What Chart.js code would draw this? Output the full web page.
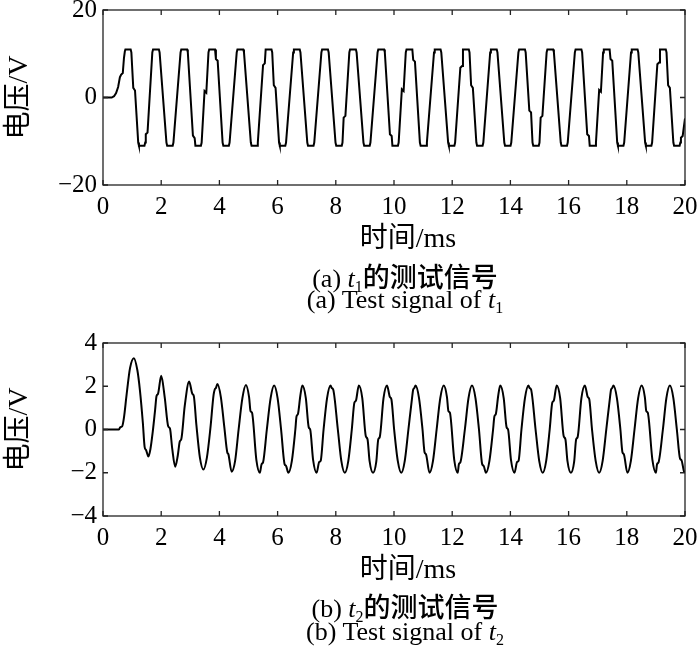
<!DOCTYPE html>
<html><head><meta charset="utf-8">
<script src="https://cdn.jsdelivr.net/npm/chart.js@4.4.0/dist/chart.umd.min.js"></script>
<style>
html,body{margin:0;padding:0;background:#fff;}
#wrap{position:relative;width:700px;height:661px;overflow:hidden;background:#fff;}
canvas{position:absolute;left:0;}
.cap{position:absolute;left:110px;width:590px;text-align:center;font-family:"Liberation Serif","Noto Sans CJK SC",serif;font-size:26px;line-height:26px;color:#000;white-space:nowrap;}
.cap .cj{font-family:"Noto Sans CJK SC",sans-serif;font-size:27px;font-weight:500;}
.cap sub{font-size:16px;vertical-align:-5px;line-height:0;}
</style></head>
<body><div id="wrap">
<canvas id="c1" width="700" height="262" style="top:0px"></canvas>
<canvas id="c2" width="700" height="265" style="top:330px"></canvas>
<div class="cap" style="top:263px">(a) <i>t</i><sub>1</sub><span class="cj">的测试信号</span></div>
<div class="cap" style="top:287px">(a) Test signal of <i>t</i><sub>1</sub></div>
<div class="cap" style="top:593px">(b) <i>t</i><sub>2</sub><span class="cj">的测试信号</span></div>
<div class="cap" style="top:619px">(b) Test signal of <i>t</i><sub>2</sub></div>
</div>
<script>
// ---- data (time in ms, voltage in V) ----
const xTickLabels = ['0','2','4','6','8','10','12','14','16','18','20'];
const y1TickLabels = ['\u221220','0','20'];
const y2TickLabels = ['\u22124','\u22122','0','2','4'];
const xTitle = '\u2003时间/ms';
const yTitle = '电压/V';

const t1Signal = [
[0,0],[0.30,0],[0.38,0.3],[0.45,1.0],[0.52,2.4],[0.58,4.6],[0.62,5.2],[0.68,5.6],[0.72,9.0],[0.75,10.5],[0.77,11],[0.95,11],
[0.975,10.3],[1.04,2.2],[1.10,1.6],[1.21,-10.3],[1.235,-11],[1.425,-11],
[1.45,-10.3],[1.47,-8.4],[1.53,-8.0],[1.695,10.3],[1.72,11],[1.92,11],
[1.945,10.3],[2.18,-10.3],[2.205,-11],[2.395,-11],
[2.42,-10.3],[2.665,10.3],[2.69,11],[2.89,11],
[2.915,10.3],[3.09,-8.7],[3.15,-9.3],[3.175,-11],[3.365,-11],
[3.39,-10.3],[3.49,1.5],[3.55,1.1],[3.625,10.3],[3.65,11],[3.85,11],
[3.88,8.8],[3.94,8.4],[4.11,-10.3],[4.135,-11],[4.325,-11],
[4.35,-10.3],[4.595,10.3],[4.62,11],[4.82,11],
[4.845,10.3],[5.08,-10.3],[5.105,-11],[5.295,-11],
[5.32,-10.3],[5.50,7.4],[5.56,7.8],[5.59,11],[5.79,11],
[5.815,10.3],[5.87,2.8],[5.93,2.2],[6.05,-10.3],[6.075,-11],[6.265,-11],
[6.29,-10.3],[6.535,10.3],[6.56,11],[6.76,11],
[6.785,10.3],[7.02,-10.3],[7.045,-11],[7.235,-11],
[7.26,-10.3],[7.505,10.3],[7.53,11],[7.73,11],
[7.755,10.3],[7.99,-10.3],[8.015,-11],[8.205,-11],
[8.23,-10.3],[8.27,-4.6],[8.33,-4.2],[8.465,10.3],[8.49,11],[8.69,11],
[8.715,10.3],[8.95,-10.3],[8.975,-11],[9.165,-11],
[9.19,-10.3],[9.435,10.3],[9.46,11],[9.66,11],
[9.685,10.3],[9.86,-8.4],[9.92,-8.8],[9.945,-11],[10.135,-11],
[10.16,-10.3],[10.27,1.9],[10.33,1.5],[10.405,10.3],[10.43,11],[10.63,11],
[10.66,8.6],[10.72,8.2],[10.89,-10.3],[10.915,-11],[11.105,-11],
[11.13,-10.3],[11.375,10.3],[11.40,11],[11.60,11],
[11.625,10.3],[11.86,-10.3],[11.885,-11],[12.075,-11],
[12.10,-10.3],[12.28,6.8],[12.34,7.2],[12.37,11],[12.57,11],
[12.595,10.3],[12.65,2.8],[12.71,2.2],[12.83,-10.3],[12.855,-11],[13.045,-11],
[13.07,-10.3],[13.305,10.3],[13.33,11],[13.53,11],
[13.555,10.3],[13.79,-10.3],[13.815,-11],[14.005,-11],
[14.03,-10.3],[14.275,10.3],[14.30,11],[14.50,11],
[14.525,10.3],[14.65,-3.0],[14.71,-3.4],[14.76,-10.3],[14.785,-11],[14.975,-11],
[15.00,-10.3],[15.04,-4.6],[15.10,-4.2],[15.245,10.3],[15.27,11],[15.47,11],
[15.495,10.3],[15.73,-10.3],[15.755,-11],[15.945,-11],
[15.97,-10.3],[16.215,10.3],[16.24,11],[16.44,11],
[16.465,10.3],[16.64,-8.4],[16.70,-8.8],[16.725,-11],[16.915,-11],
[16.94,-10.3],[17.05,1.7],[17.11,1.3],[17.185,10.3],[17.21,11],[17.41,11],
[17.44,8.8],[17.50,8.4],[17.67,-10.3],[17.695,-11],[17.885,-11],
[17.91,-10.3],[18.145,10.3],[18.17,11],[18.37,11],
[18.395,10.3],[18.63,-10.3],[18.655,-11],[18.845,-11],
[18.87,-10.3],[19.05,7.6],[19.11,8.0],[19.14,11],[19.34,11],
[19.365,10.3],[19.42,2.8],[19.48,2.2],[19.60,-10.3],[19.625,-11],[19.815,-11],
[19.84,-10.3],[19.86,-9.2],[19.92,-8.8],[20.0,-4.8]
];

const t2Signal = [
[0,0],[0.55,0],[0.59,0.1],[0.66,0.15],[0.72,0.55],[0.81,1.6],[0.93,2.85],[1.06,3.3],
[1.18,2.75],[1.27,1.8],[1.37,0.3],[1.43,-0.8],[1.48,-0.95],[1.56,-1.25],
[1.63,-0.9],[1.71,-0.1],[1.79,0.9],[1.84,1.55],[1.89,1.65],[2.00,2.48],
[2.12,1.5],[2.24,0.15],[2.30,0.05],[2.38,-0.9],[2.48,-1.72],
[2.57,-1.2],[2.64,-0.55],[2.69,-0.45],[2.81,1.1],[2.96,2.22],
[3.07,1.65],[3.12,1.55],[3.21,0.2],[3.33,-1.3],[3.45,-1.85],
[3.57,-1.3],[3.69,0.05],[3.80,1.6],[3.84,1.85],[3.88,1.92],[3.93,2.1],
[4.05,1.5],[4.17,0.1],[4.27,-1.05],[4.31,-1.15],[4.42,-1.95],
[4.54,-1.45],[4.66,0.0],[4.79,1.45],[4.91,2.06],
[5.02,1.5],[5.07,0.85],[5.12,0.78],[5.27,-1.4],[5.39,-2.0],
[5.45,-1.6],[5.50,-1.52],[5.63,0.0],[5.76,1.45],[5.88,2.03],
[6.00,1.45],[6.12,0.0],[6.24,-1.6],[6.29,-1.68],[6.37,-2.0],
[6.49,-1.45],[6.61,0.0],[6.65,0.6],[6.70,0.72],[6.78,1.55],[6.85,2.03],
[6.97,1.45],[7.07,0.1],[7.12,0.0],[7.22,-1.4],[7.34,-2.0],
[7.43,-1.5],[7.48,-1.45],[7.58,0.0],[7.70,1.45],[7.82,2.03],
[7.86,1.92],[7.91,1.85],[8.07,0.0],[8.19,-1.45],[8.31,-2.0],
[8.43,-1.45],[8.55,0.0],[8.64,1.25],[8.69,1.33],[8.79,2.03],
[8.91,1.45],[9.03,-0.3],[9.09,-0.45],[9.16,-1.45],[9.28,-2.0],
[9.39,-1.5],[9.46,-0.45],[9.51,-0.35],[9.64,1.45],[9.76,2.03],
[9.86,1.5],[9.91,1.4],[10.005,0.0],[10.13,-1.45],[10.25,-2.0],
[10.37,-1.45],[10.495,0.0],[10.62,1.45],[10.66,1.85],[10.70,1.92],[10.74,2.03],
[10.86,1.45],[10.98,0.0],[11.05,-1.05],[11.10,-1.15],[11.22,-2.0],
[11.34,-1.45],[11.465,0.0],[11.59,1.45],[11.71,2.03],
[11.82,1.5],[11.87,0.85],[11.92,0.78],[12.07,-1.4],[12.19,-2.0],
[12.23,-1.6],[12.28,-1.52],[12.435,0.0],[12.56,1.45],[12.68,2.03],
[12.80,1.45],[12.92,0.0],[13.03,-1.6],[13.08,-1.68],[13.16,-2.0],
[13.28,-1.45],[13.405,0.0],[13.45,0.6],[13.50,0.72],[13.58,1.55],[13.65,2.03],
[13.77,1.45],[13.87,0.1],[13.92,0.0],[14.02,-1.4],[14.14,-2.0],
[14.23,-1.5],[14.28,-1.45],[14.38,0.0],[14.50,1.45],[14.62,2.03],
[14.66,1.92],[14.71,1.85],[14.865,0.0],[14.99,-1.45],[15.11,-2.0],
[15.23,-1.45],[15.35,0.0],[15.44,1.25],[15.49,1.33],[15.59,2.03],
[15.71,1.45],[15.83,-0.3],[15.89,-0.45],[15.96,-1.45],[16.08,-2.0],
[16.19,-1.5],[16.26,-0.45],[16.31,-0.35],[16.44,1.45],[16.56,2.03],
[16.66,1.5],[16.71,1.4],[16.805,0.0],[16.93,-1.45],[17.05,-2.0],
[17.17,-1.45],[17.295,0.0],[17.42,1.45],[17.46,1.85],[17.50,1.92],[17.54,2.03],
[17.66,1.45],[17.78,0.0],[17.85,-1.05],[17.90,-1.15],[18.02,-2.0],
[18.14,-1.45],[18.265,0.0],[18.39,1.45],[18.51,2.03],
[18.62,1.5],[18.67,0.85],[18.72,0.78],[18.88,-1.4],[19.00,-2.0],
[19.04,-1.6],[19.09,-1.52],[19.24,0.0],[19.36,1.45],[19.48,2.03],
[19.60,1.45],[19.72,0.0],[19.83,-1.35],[19.88,-1.42],[19.97,-1.95],[20,-1.97]
];

// ---- drawing ----
const TICK_FONT = {family:'"Liberation Serif","Times New Roman",serif', size:25};
const TITLE_FONT = {family:'"Liberation Serif","Noto Sans CJK SC",serif', size:28};

const frameTicks = {
  id:'frameTicks',
  afterDatasetsDraw(chart){
    const {ctx, chartArea:a, scales:{x,y}} = chart;
    ctx.save();
    ctx.strokeStyle='#222'; ctx.lineWidth=1.3;
    ctx.strokeRect(a.left, a.top, a.right-a.left, a.bottom-a.top);
    ctx.beginPath();
    x.ticks.forEach(t=>{const p=x.getPixelForValue(t.value);
      ctx.moveTo(p,a.bottom);ctx.lineTo(p,a.bottom-5);ctx.moveTo(p,a.top);ctx.lineTo(p,a.top+5);});
    y.ticks.forEach(t=>{const p=y.getPixelForValue(t.value);
      ctx.moveTo(a.left,p);ctx.lineTo(a.left+5,p);ctx.moveTo(a.right,p);ctx.lineTo(a.right-5,p);});
    ctx.stroke(); ctx.restore();
  }
};

function makeChart(id, signal, yMin, yMax, yStep, yLabels, padTop, canvasH, plotBottom, titlePad, smooth){
  new Chart(document.getElementById(id), {
    type:'line',
    data:{datasets:[{
      data: signal.map(p=>({x:p[0], y:p[1]})),
      borderColor:'#000', borderWidth:2, pointRadius:0, fill:false,
      tension:0, cubicInterpolationMode: smooth ? 'monotone' : 'default'
    }]},
    options:{
      responsive:false, animation:false, events:[],
      layout:{padding:{top:padTop, right:15, left:0, bottom:0}},
      plugins:{legend:{display:false}, tooltip:{enabled:false}},
      scales:{
        x:{type:'linear', min:0, max:20,
          grid:{display:false, drawTicks:false}, border:{display:false},
          ticks:{stepSize:2, color:'#000', font:TICK_FONT, padding:7, maxRotation:0,
                 callback:(v,i)=>xTickLabels[i]},
          title:{display:true, text:xTitle, color:'#000', font:TITLE_FONT, padding:{top:0,bottom:titlePad}},
          afterFit:s=>{s.height=canvasH-plotBottom; s.paddingLeft=0; s.paddingRight=0;}
        },
        y:{type:'linear', min:yMin, max:yMax,
          grid:{display:false, drawTicks:false}, border:{display:false},
          ticks:{stepSize:yStep, color:'#000', font:TICK_FONT, padding:6,
                 callback:(v,i)=>yLabels[i]},
          title:{display:true, text:yTitle, color:'#000', font:TITLE_FONT, padding:{top:3,bottom:0}},
          afterFit:s=>{s.width=103; s.paddingTop=0; s.paddingBottom=0;}
        }
      }
    },
    plugins:[frameTicks]
  });
}

makeChart('c1', t1Signal, -20, 20, 20, y1TickLabels, 10, 262, 185, 6, false);
makeChart('c2', t2Signal, -4, 4, 2, y2TickLabels, 13, 265, 186, 8, true);
</script>
</body></html>
